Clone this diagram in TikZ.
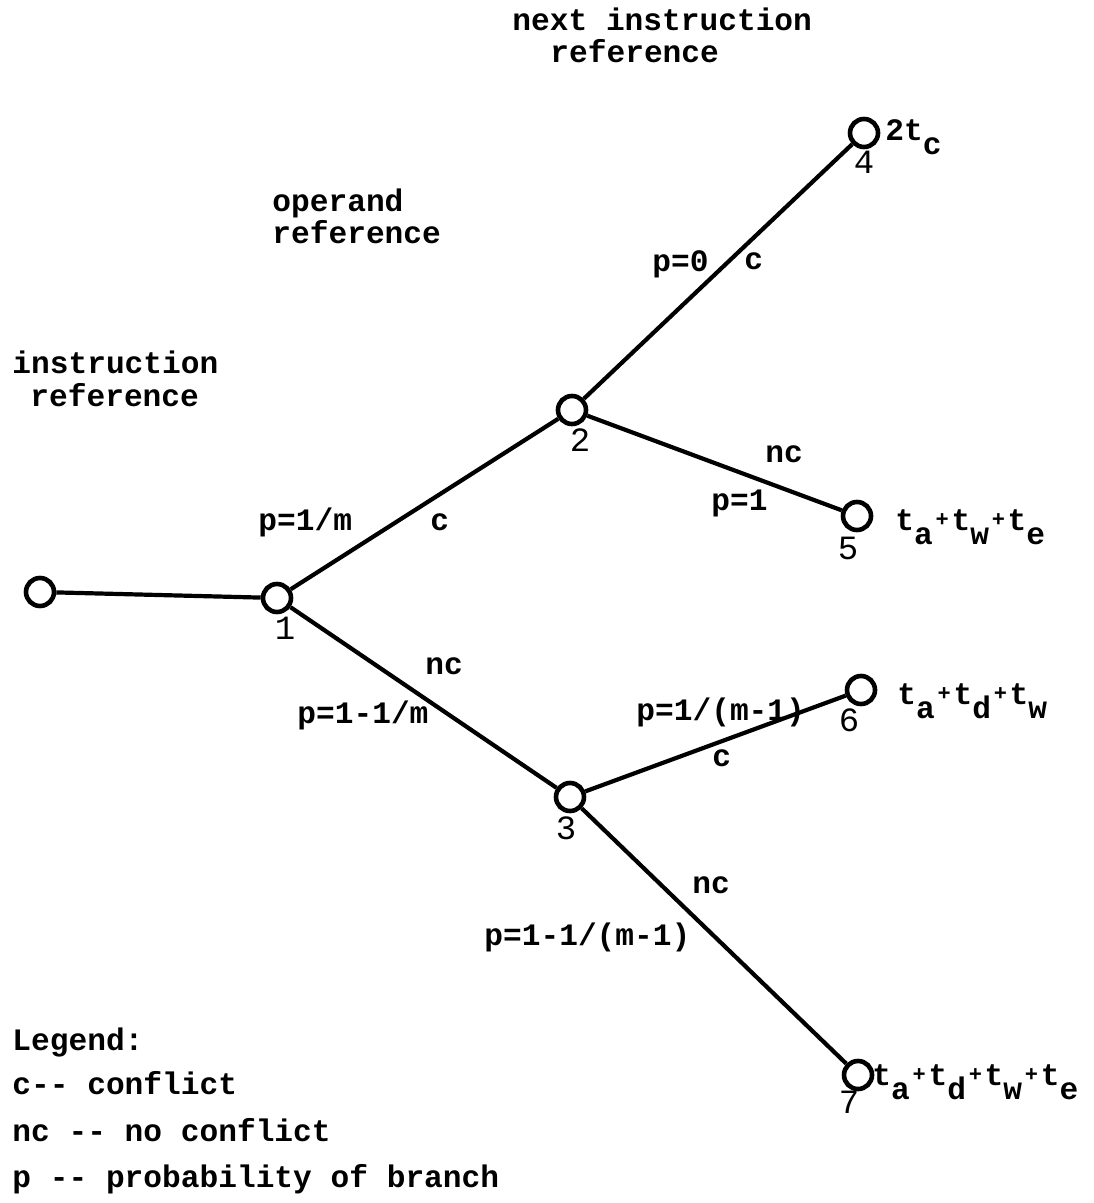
\documentclass[tikz,border=0pt]{standalone}
\usepackage{fontspec}
\setmonofont{Liberation Mono}
\newcommand{\tw}{\fontsize{15.6}{18}\selectfont\ttfamily\bfseries}
\newcommand{\lowr}[1]{\raisebox{-7pt}{#1}}
\newcommand{\pls}{\makebox[9.36pt]{\raisebox{2pt}{\fontsize{11}{12}\selectfont +}}}
\begin{document}
\begin{tikzpicture}[x=0.5pt,y=-0.5pt,
  vert/.style={circle,draw,line width=2.3pt,minimum size=14pt,inner sep=0pt},
  txt/.style={font=\tw,anchor=base west,inner sep=0pt},
  num/.style={font=\fontsize{17}{18}\selectfont\ttfamily,inner sep=0pt},
  edge/.style={line width=2.1pt}]
\useasboundingbox (0,0) rectangle (1093,1203);
% vertices
\node[vert] (n0) at (40,592) {};
\node[vert] (n1) at (277,598) {};
\node[vert] (n2) at (572,410) {};
\node[vert] (n3) at (570,797) {};
\node[vert] (n4) at (864,133) {};
\node[vert] (n5) at (857,516) {};
\node[vert] (n6) at (861,690) {};
\node[vert] (n7) at (858,1075) {};
% vertex numbers
\node[num] (l1) at (285,628) {1};
\node[num] (l2) at (580,440) {2};
\node[num] (l3) at (566,828) {3};
\node[num] (l4) at (864,162) {4};
\node[num] (l5) at (848,548) {5};
\node[num] (l6) at (849,720) {6};
\node[num] (l7) at (849,1102) {7};
% edges
\draw[edge] (n0) -- (n1);
\draw[edge] (n1) -- (n2);
\draw[edge] (n1) -- (n3);
\draw[edge] (n2) -- (n4);
\draw[edge] (n2) -- (n5);
\draw[edge] (n3) -- (n6);
\draw[edge] (n3) -- (n7);
% headings
\node[txt] (h1a) at (512,31) {next instruction};
\node[txt] (h1b) at (550,63) {reference};
\node[txt] (h2a) at (272,212) {operand};
\node[txt] (h2b) at (272,244) {reference};
\node[txt] (h3a) at (12,373) {instruction};
\node[txt] (h3b) at (30,406) {reference};
% edge labels
\node[txt] (e1) at (652,272) {p=0};
\node[txt] (e2) at (744,270) {c};
\node[txt] (e3) at (258,530) {p=1/m};
\node[txt] (e4) at (430,530) {c};
\node[txt] (e5) at (765,462) {nc};
\node[txt] (e6) at (711,510) {p=1};
\node[txt] (e7) at (425,674) {nc};
\node[txt] (e8) at (297,723) {p=1-1/m};
\node[txt] (e9) at (636,720) {p=1/(m-1)};
\node[txt] (e10) at (712,766) {c};
\node[txt] (e11) at (692,893) {nc};
\node[txt] (e12) at (484,945) {p=1-1/(m-1)};
% leaf costs
\node[txt] (c4) at (885,141) {2t\lowr{c}};
\node[txt] (c5) at (895,530) {t\lowr{a}\pls t\lowr{w}\pls t\lowr{e}};
\node[txt] (c6) at (897,704) {t\lowr{a}\pls t\lowr{d}\pls t\lowr{w}};
\node[txt] (c7) at (872,1085) {t\lowr{a}\pls t\lowr{d}\pls t\lowr{w}\pls t\lowr{e}};
% legend
\node[txt] (g0) at (12,1050) {Legend:};
\node[txt] (g1) at (12,1094) {c-- conflict};
\node[txt] (g2) at (12,1141) {nc -- no conflict};
\node[txt] (g3) at (12,1187) {p -- probability of branch};
\end{tikzpicture}
\end{document}
